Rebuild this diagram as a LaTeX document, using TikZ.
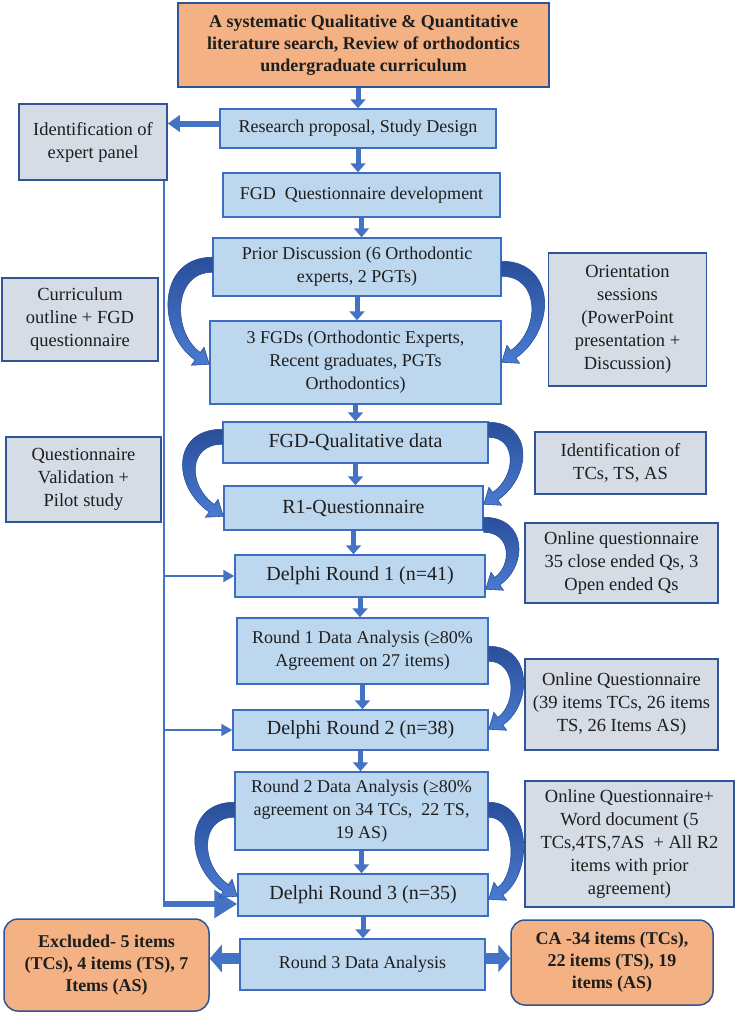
\documentclass[tikz,border=0pt]{standalone}
\usepackage{fontspec}
\setmainfont{Liberation Serif}
\usetikzlibrary{arrows.meta,calc}
\definecolor{lblue}{HTML}{BDD7EE}
\definecolor{gbox}{HTML}{D6DCE5}
\definecolor{obox}{HTML}{F4B183}
\definecolor{bdr}{HTML}{2F5597}
\definecolor{bdr2}{HTML}{3D6CC0}
\definecolor{arr}{HTML}{4472C4}
\definecolor{arcdark}{HTML}{2A4F9A}
\definecolor{arclight}{HTML}{4A7BD2}
\definecolor{txt}{HTML}{1E1E1E}
\newcommand\fsz[2]{\fontsize{#1}{#2}\selectfont}
% #1 start coordinate, #2 direction (1 right, -1 left), #3 drop to tip, #4 bulge, #5 tip x offset
\newcommand\blockarc[5]{%
  \begin{scope}[shift={#1}, xscale=#2]
    \pgfmathsetmacro\ko{(1.33*#4-14.1-#5)/0.82}
    \pgfmathsetmacro\ci{1.33*(#4-12)}
    \pgfmathsetmacro\ki{(\ci-8.9-#5)/0.82}
    \shade[top color=arcdark, bottom color=arclight, draw=arcdark, line width=0.6pt]
      (0,0) .. controls ({1.33*#4},0) and ({1.33*#4},{#3-4.3-0.57*\ko}) .. ({#5+14.1},{#3-4.3})
      -- ({#5+17.8},{#3+1}) -- ({#5},{#3}) -- ({#5+5.2},{#3-17}) -- ({#5+8.9},{#3-11.7})
      .. controls ({\ci},{#3-11.7-0.57*\ki}) and ({\ci},15) .. (0,15) -- cycle;
  \end{scope}}
\tikzset{
  base/.style={line width=1.5pt, inner sep=0pt, align=center, text=txt},
  bluebox/.style={base, draw=bdr2, fill=lblue, font=\fsz{18}{23}},
  bigblue/.style={bluebox, font=\fsz{20}{24}},
  graybox/.style={base, draw=bdr, fill=gbox, font=\fsz{18.5}{23}},
  orangebox/.style={base, draw=bdr, fill=obox, font=\bfseries\fsz{18}{22}},
  outbox/.style={orangebox, rounded corners=14pt},
  downarr/.style={draw=arr, line width=5pt, -{Triangle[width=15pt,length=9pt]}},
  leftarr/.style={draw=arr, line width=6pt, -{Triangle[width=16pt,length=12pt]}},
  thinline/.style={draw=arr, line width=2pt},
  branch/.style={draw=arr, line width=2pt, -{Triangle[width=12pt,length=11pt]}},
  feedarr/.style={draw=arr, line width=6pt, -{Triangle[width=27pt,length=23pt]}},
  bigarr/.style={draw=arr, line width=11pt, -{Triangle[width=27pt,length=12pt]}},
}
\begin{document}
\begin{tikzpicture}[x=1pt, y=-1pt]
\fill[white] (0,0) rectangle (736,1015);
\useasboundingbox (0,0) rectangle (736,1015);

% main column
\node[orangebox, minimum width=371pt, minimum height=84pt] (top) at (363.5,45)
  {A systematic Qualitative \& Quantitative\\literature search, Review of orthodontics\\undergraduate curriculum};
\node[bluebox, minimum width=276pt, minimum height=39pt] (res) at (358,128.5) {Research proposal, Study Design};
\node[bluebox, minimum width=277pt, minimum height=44pt] (fgdq) at (361.5,195) {FGD\enspace Questionnaire development};
\node[bluebox, minimum width=288pt, minimum height=58pt] (pd) at (357,267) {Prior Discussion (6 Orthodontic\\experts, 2 PGTs)};
\node[bluebox, minimum width=291pt, minimum height=83pt] (fgd3) at (355.5,362.5) {3 FGDs (Orthodontic Experts,\\Recent graduates, PGTs\\Orthodontics)};
\node[bigblue, minimum width=265pt, minimum height=41pt] (fgdqual) at (355.5,442.5) {FGD-Qualitative data};
\node[bigblue, minimum width=259pt, minimum height=44pt] (r1q) at (353.5,508) {R1-Questionnaire};
\node[bigblue, minimum width=250pt, minimum height=42pt] (d1) at (360,576) {Delphi Round 1 (n=41)};
\node[bluebox, minimum width=251pt, minimum height=66pt] (r1da) at (362.5,651) {Round 1 Data Analysis (≥80\%\\Agreement on 27 items)};
\node[bigblue, minimum width=255pt, minimum height=40pt] (d2) at (360.5,730) {Delphi Round 2 (n=38)};
\node[bluebox, minimum width=253pt, minimum height=78pt] (r2da) at (361.5,811) {Round 2 Data Analysis (≥80\%\\agreement on 34 TCs,\ \ 22 TS,\\19 AS)};
\node[bigblue, minimum width=250pt, minimum height=42pt] (d3) at (363,895) {Delphi Round 3 (n=35)};
\node[bluebox, minimum width=245pt, minimum height=51pt] (r3da) at (362.5,964.5) {Round 3 Data Analysis};

% side boxes
\node[graybox, minimum width=148pt, minimum height=76pt] (idexp) at (93,142) {Identification of\\expert panel};
\node[graybox, minimum width=156pt, minimum height=83pt] (curr) at (80,319.5) {Curriculum\\outline + FGD\\questionnaire};
\node[graybox, minimum width=155pt, minimum height=85pt] (qval) at (83.5,479.5) {Questionnaire\\Validation +\\Pilot study};
\node[graybox, minimum width=158pt, minimum height=133pt] (orient) at (627.5,319.5) {Orientation\\sessions\\(PowerPoint\\presentation +\\Discussion)};
\node[graybox, minimum width=171pt, minimum height=62pt] (idtcs) at (620.5,463) {Identification of\\TCs, TS, AS};
\node[graybox, minimum width=193pt, minimum height=80pt] (onlq1) at (621.5,563) {Online questionnaire\\35 close ended Qs, 3\\Open ended Qs};
\node[graybox, minimum width=193pt, minimum height=91pt] (onlq2) at (621.5,704.5) {Online Questionnaire\\(39 items TCs, 26 items\\TS, 26 Items AS)};
\node[graybox, minimum width=209pt, minimum height=126pt] (onlq3) at (629.5,844) {Online Questionnaire+\\Word document (5\\TCs,4TS,7AS\ \ + All R2\\items with prior\\agreement)};

% outcome boxes
\node[outbox, minimum width=205pt, minimum height=92pt] (excl) at (106.5,965) {Excluded- 5 items\\(TCs), 4 items (TS), 7\\Items (AS)};
\node[outbox, minimum width=202pt, minimum height=85pt] (ca) at (612,962.5) {CA -34 items (TCs),\\22 items (TS), 19\\items (AS)};

% straight flow arrows
\draw[downarr] (top.south -| res.north) -- (res.north);
\foreach \a/\b in {res/fgdq, fgdq/pd, pd/fgd3, fgd3/fgdqual, fgdqual/r1q, r1q/d1, d1/r1da, r1da/d2, d2/r2da, r2da/d3, d3/r3da}
  \draw[downarr] (\a.south) -- (\a.south |- \b.north);
\draw[leftarr] ([yshift=5pt]res.west) -- ([yshift=5pt]res.west -| idexp.east);

% expert panel feed line
\coordinate (lt) at ($(idexp.south east)+(-4,0)$);
\coordinate (bt) at ([yshift=-9pt]d3.west);
\draw[thinline] (lt) -- (lt |- bt);
\draw[branch] (lt |- d1.west) -- (d1.west);
\draw[branch] (lt |- d2.west) -- (d2.west);
\draw[feedarr] ([xshift=-1pt]lt |- bt) -- (bt);

% outcome arrows
\draw[bigarr] ([yshift=6pt]r3da.west) -- ([yshift=6pt]r3da.west -| excl.east);
\draw[bigarr] ([yshift=6pt]r3da.east) -- ([yshift=6pt]r3da.east -| ca.west);

% curved block arrows
\blockarc{([yshift=-20pt]pd.north west)}{-1}{107}{42}{3}
\blockarc{([yshift=-24pt]pd.north east)}{1}{101}{41}{0}
\blockarc{([yshift=-8pt]fgdqual.north west)}{-1}{87}{38}{-1}
\blockarc{([yshift=-1pt]fgdqual.north east)}{1}{82}{33}{-5}
\blockarc{([yshift=-32pt]r1q.north east)}{1}{72}{33}{2}
\blockarc{([yshift=-29pt]r1da.north east)}{1}{83}{33}{0}
\blockarc{([yshift=-31pt]r2da.north west)}{-1}{94}{38}{-3}
\blockarc{([yshift=-31pt]r2da.north east)}{1}{97}{33}{0}
\end{tikzpicture}
\end{document}
